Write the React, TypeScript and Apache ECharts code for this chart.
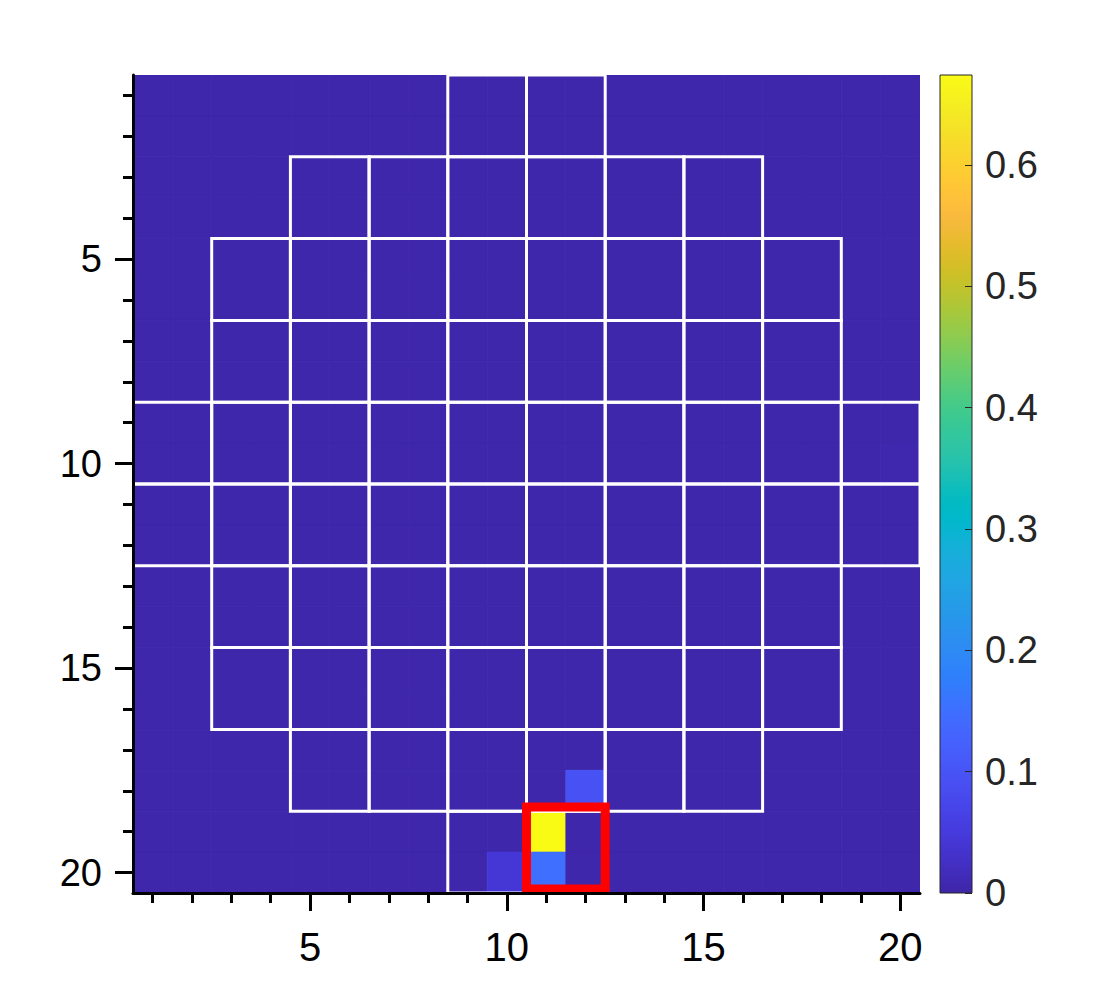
import { useEffect, useRef } from "react";
import * as echarts from "echarts";

// ---- data ----
const X_MAJOR = [5, 10, 15, 20];
const X_MINOR = [1, 2, 3, 4, 5, 6, 7, 8, 9, 10, 11, 12, 13, 14, 15, 16, 17, 18, 19, 20];
const Y_MAJOR = [5, 10, 15, 20];
const Y_MINOR = [1, 2, 3, 4, 5, 6, 7, 8, 9, 10, 11, 12, 13, 14, 15, 16, 17, 18, 19, 20];
const CB_TICKS = [0, 0.1, 0.2, 0.3, 0.4, 0.5, 0.6];
const V_MIN = 0;
const V_MAX = 0.674;

// values[row y-1][col x-1]
const VALUES: number[][] = [
  [0.002, 0.002, 0.002, 0.002, 0.002, 0.002, 0.002, 0.002, 0.002, 0.002, 0.002, 0.002, 0.002, 0.002, 0.002, 0.002, 0.002, 0.002, 0.002, 0.002],
  [0.002, 0.002, 0.002, 0.002, 0.002, 0.002, 0.002, 0.002, 0.002, 0.002, 0.002, 0.002, 0.002, 0.002, 0.002, 0.002, 0.002, 0.002, 0.002, 0.002],
  [0.002, 0.002, 0.002, 0.002, 0.002, 0.002, 0.002, 0.002, 0.002, 0.002, 0.002, 0.002, 0.002, 0.002, 0.002, 0.002, 0.002, 0.002, 0.002, 0.002],
  [0.002, 0.002, 0.002, 0.002, 0.002, 0.002, 0.002, 0.002, 0.002, 0.002, 0.002, 0.002, 0.002, 0.002, 0.002, 0.002, 0.002, 0.002, 0.002, 0.002],
  [0.002, 0.002, 0.002, 0.002, 0.002, 0.002, 0.002, 0.002, 0.002, 0.002, 0.002, 0.002, 0.002, 0.002, 0.002, 0.002, 0.002, 0.002, 0.002, 0.002],
  [0.002, 0.002, 0.002, 0.002, 0.002, 0.002, 0.002, 0.002, 0.002, 0.002, 0.002, 0.002, 0.002, 0.002, 0.002, 0.002, 0.002, 0.002, 0.002, 0.002],
  [0.002, 0.002, 0.002, 0.002, 0.002, 0.002, 0.002, 0.002, 0.002, 0.002, 0.002, 0.002, 0.002, 0.002, 0.002, 0.002, 0.002, 0.002, 0.002, 0.002],
  [0.002, 0.002, 0.002, 0.002, 0.002, 0.002, 0.002, 0.002, 0.002, 0.002, 0.002, 0.002, 0.002, 0.002, 0.002, 0.002, 0.002, 0.002, 0.002, 0.002],
  [0.002, 0.002, 0.002, 0.002, 0.002, 0.002, 0.002, 0.002, 0.002, 0.002, 0.002, 0.002, 0.002, 0.002, 0.002, 0.002, 0.002, 0.002, 0.002, 0.002],
  [0.002, 0.002, 0.002, 0.002, 0.002, 0.002, 0.002, 0.002, 0.002, 0.002, 0.002, 0.002, 0.002, 0.002, 0.002, 0.002, 0.002, 0.002, 0.002, 0.005],
  [0.002, 0.002, 0.002, 0.002, 0.002, 0.002, 0.002, 0.002, 0.002, 0.002, 0.002, 0.002, 0.002, 0.002, 0.002, 0.002, 0.002, 0.002, 0.002, 0.002],
  [0.002, 0.002, 0.002, 0.002, 0.002, 0.002, 0.002, 0.002, 0.002, 0.002, 0.002, 0.002, 0.002, 0.002, 0.002, 0.002, 0.002, 0.002, 0.002, 0.002],
  [0.002, 0.002, 0.002, 0.002, 0.002, 0.002, 0.002, 0.002, 0.002, 0.002, 0.002, 0.002, 0.002, 0.002, 0.002, 0.002, 0.002, 0.002, 0.002, 0.002],
  [0.002, 0.002, 0.002, 0.002, 0.002, 0.002, 0.002, 0.002, 0.002, 0.002, 0.002, 0.002, 0.002, 0.002, 0.002, 0.002, 0.002, 0.002, 0.002, 0.002],
  [0.002, 0.002, 0.002, 0.002, 0.002, 0.002, 0.002, 0.002, 0.002, 0.002, 0.002, 0.002, 0.002, 0.002, 0.002, 0.002, 0.002, 0.002, 0.002, 0.002],
  [0.002, 0.002, 0.002, 0.002, 0.002, 0.002, 0.002, 0.002, 0.002, 0.002, 0.002, 0.002, 0.002, 0.002, 0.002, 0.002, 0.002, 0.002, 0.002, 0.002],
  [0.002, 0.002, 0.002, 0.002, 0.002, 0.002, 0.002, 0.002, 0.002, 0.002, 0.002, 0.002, 0.002, 0.002, 0.002, 0.002, 0.002, 0.002, 0.002, 0.002],
  [0.002, 0.002, 0.002, 0.002, 0.002, 0.002, 0.002, 0.002, 0.002, 0.002, 0.002, 0.096, 0.002, 0.002, 0.002, 0.002, 0.002, 0.002, 0.002, 0.002],
  [0.002, 0.002, 0.002, 0.002, 0.002, 0.002, 0.002, 0.002, 0.002, 0.002, 0.674, 0.003, 0.002, 0.002, 0.002, 0.002, 0.002, 0.002, 0.002, 0.002],
  [0.002, 0.002, 0.002, 0.002, 0.002, 0.002, 0.002, 0.002, 0.002, 0.043, 0.150, 0.003, 0.002, 0.002, 0.002, 0.002, 0.002, 0.002, 0.002, 0.002],
];

// super-pixel (2x2) outline mask: for each super-row, [first super-col, last super-col]
const SUPER_ROW_SPANS: number[][] = [
  [4, 5], [2, 7], [1, 8], [1, 8], [0, 9], [0, 9], [1, 8], [1, 8], [2, 7], [4, 5],
];

// highlighted box [x0, y0, x1, y1] in data units
const RED_BOX = [[10.5, 18.4, 12.5, 20.4]];

const PARULA = [
  "#3E26A8", "#402AB4", "#422EC0", "#4432CB", "#4537D5", "#463CDE", "#4741E5", "#4747EB",
  "#484DF0", "#4852F4", "#4758F8", "#465EFB", "#4563FD", "#4269FE", "#3E6FFF", "#3875FE",
  "#327CFC", "#2F81FA", "#2E87F7", "#2D8CF3", "#2B91EF", "#2796EB", "#259BE8", "#23A0E5",
  "#20A5E3", "#1CA9DF", "#18ADDB", "#12B1D6", "#08B5D0", "#01B8CA", "#02BAC3", "#0BBDBD",
  "#19BFB6", "#24C1AE", "#2CC4A7", "#31C69F", "#37C897", "#3FCA8E", "#4ACB84", "#57CC7A",
  "#64CD6F", "#72CD64", "#81CC59", "#8FCB4E", "#9DC943", "#ABC739", "#B9C431", "#C5C22A",
  "#D1BF27", "#DCBD29", "#E6BB2D", "#F0BA36", "#F8BA3D", "#FEBE3C", "#FEC338", "#FEC934",
  "#FCCF30", "#FAD62D", "#F7DC2A", "#F5E327", "#F5E924", "#F6EF20", "#F7F51B", "#F9FB15",
];

const FONT = "'Liberation Sans', Arial, Helvetica, sans-serif";

export default function App() {
  const ref = useRef<HTMLDivElement>(null);

  useEffect(() => {
    if (!ref.current) return;
    const chart = echarts.init(ref.current, undefined, { renderer: "svg" });

    const heatData: number[][] = [];
    VALUES.forEach((row, yi) => row.forEach((v, xi) => heatData.push([xi + 1, yi + 1, v])));

    const outlineData: number[][] = [];
    SUPER_ROW_SPANS.forEach((span, r) => {
      for (let c = span[0]; c <= span[1]; c++) {
        outlineData.push([0.5 + 2 * c, 0.5 + 2 * r, 2.5 + 2 * c, 2.5 + 2 * r]);
      }
    });

    const rectFrom = (api: any, x0: number, y0: number, x1: number, y1: number) => {
      const p0 = api.coord([x0, y0]);
      const p1 = api.coord([x1, y1]);
      return {
        x: Math.min(p0[0], p1[0]),
        y: Math.min(p0[1], p1[1]),
        width: Math.abs(p1[0] - p0[0]),
        height: Math.abs(p1[1] - p0[1]),
      };
    };

    const axisBase = (extra: any) => ({
      type: "value",
      gridIndex: 0,
      min: 0.5,
      max: 20.5,
      z: 10,
      splitLine: { show: false },
      ...extra,
    });

    const gradientStops = PARULA.map((c, i) => ({ offset: i / (PARULA.length - 1), color: c }));

    const option: any = {
      animation: false,
      backgroundColor: "#ffffff",
      grid: [
        { left: 125, top: 67, width: 787, height: 818, show: false },
        {
          left: 932, top: 67, width: 32, height: 818, show: true, z: 10,
          borderColor: "#262626", borderWidth: 1, backgroundColor: "rgba(0,0,0,0)",
        },
      ],
      xAxis: [
        axisBase({
          position: "bottom",
          axisLine: { show: true, onZero: false, lineStyle: { color: "#000", width: 3 } },
          axisTick: { show: true, customValues: X_MAJOR, length: 18, lineStyle: { color: "#000", width: 3 } },
          axisLabel: { show: true, customValues: X_MAJOR, fontSize: 40, color: "#000", margin: 34, fontFamily: FONT },
        }),
        axisBase({
          position: "bottom",
          axisLine: { show: false, onZero: false },
          axisTick: { show: true, customValues: X_MINOR, length: 10, lineStyle: { color: "#000", width: 3 } },
          axisLabel: { show: false },
        }),
        { type: "value", gridIndex: 1, show: false, min: 0, max: 1, axisLine: { onZero: false } },
      ],
      yAxis: [
        axisBase({
          position: "left",
          inverse: true,
          axisLine: { show: true, onZero: false, lineStyle: { color: "#000", width: 3 } },
          axisTick: { show: true, customValues: Y_MAJOR, length: 18, lineStyle: { color: "#000", width: 3 } },
          axisLabel: { show: true, customValues: Y_MAJOR, fontSize: 38, color: "#000", margin: 31, fontFamily: FONT },
        }),
        axisBase({
          position: "left",
          inverse: true,
          axisLine: { show: false, onZero: false },
          axisTick: { show: true, customValues: Y_MINOR, length: 10, lineStyle: { color: "#000", width: 3 } },
          axisLabel: { show: false },
        }),
        {
          type: "value",
          gridIndex: 1,
          position: "right",
          min: V_MIN,
          max: V_MAX,
          z: 11,
          axisLine: { show: false, onZero: false },
          splitLine: { show: false },
          axisTick: { show: true, inside: true, length: 7, customValues: CB_TICKS, lineStyle: { color: "#262626", width: 1 } },
          axisLabel: {
            show: true,
            customValues: CB_TICKS,
            fontSize: 38,
            color: "#262626",
            margin: 13,
            fontFamily: FONT,
            formatter: (v: number) => (v === 0 ? "0" : v.toFixed(1)),
          },
        },
      ],
      visualMap: {
        type: "continuous",
        show: false,
        min: V_MIN,
        max: V_MAX,
        dimension: 2,
        seriesIndex: 0,
        inRange: { color: PARULA },
      },
      series: [
        {
          type: "custom",
          xAxisIndex: 0,
          yAxisIndex: 0,
          clip: true,
          z: 1,
          encode: { x: 0, y: 1 },
          data: heatData,
          renderItem: (params: any, api: any) => {
            const x = api.value(0);
            const y = api.value(1);
            const color = api.visual("color");
            return {
              type: "rect",
              shape: rectFrom(api, x - 0.5, y - 0.5, x + 0.5, y + 0.5),
              style: { fill: color, stroke: color, lineWidth: 0.8 },
            };
          },
        },
        {
          type: "custom",
          xAxisIndex: 0,
          yAxisIndex: 0,
          clip: true,
          z: 3,
          silent: true,
          encode: { x: [0, 2], y: [1, 3] },
          data: outlineData,
          renderItem: (params: any, api: any) => ({
            type: "rect",
            shape: rectFrom(api, api.value(0), api.value(1), api.value(2), api.value(3)),
            style: { fill: "none", stroke: "#ffffff", lineWidth: 3 },
          }),
        },
        {
          type: "custom",
          xAxisIndex: 0,
          yAxisIndex: 0,
          clip: true,
          z: 4,
          silent: true,
          encode: { x: [0, 2], y: [1, 3] },
          data: RED_BOX,
          renderItem: (params: any, api: any) => ({
            type: "rect",
            shape: rectFrom(api, api.value(0), api.value(1), api.value(2), api.value(3)),
            style: { fill: "none", stroke: "#ff0000", lineWidth: 9 },
          }),
        },
        {
          type: "custom",
          xAxisIndex: 2,
          yAxisIndex: 2,
          clip: true,
          z: 1,
          silent: true,
          encode: { x: [0, 2], y: [1, 3] },
          data: [[0, V_MIN, 1, V_MAX]],
          renderItem: (params: any, api: any) => ({
            type: "rect",
            shape: rectFrom(api, api.value(0), api.value(1), api.value(2), api.value(3)),
            style: { fill: new echarts.graphic.LinearGradient(0, 1, 0, 0, gradientStops), stroke: "none" },
          }),
        },
      ],
    };

    chart.setOption(option);
    return () => chart.dispose();
  }, []);

  return <div ref={ref} style={{ width: 1095, height: 989 }} />;
}
